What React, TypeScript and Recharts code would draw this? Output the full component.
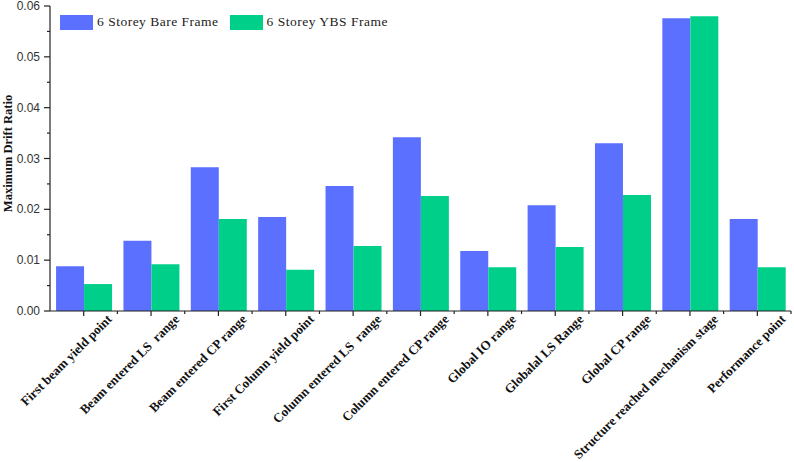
import { BarChart, Bar, XAxis, YAxis } from "recharts";

const categories = [
  "First beam yield point",
  "Beam entered LS  range",
  "Beam entered CP range",
  "First Column yield point",
  "Column entered LS  range",
  "Column entered CP range",
  "Global IO range",
  "Globalal LS Range",
  "Global CP range",
  "Structure reached mechanism stage",
  "Performance point",
];

const bareFrame = [0.0088, 0.0138, 0.0283, 0.0185, 0.0246, 0.0342, 0.0118, 0.0208, 0.033, 0.0576, 0.0181];
const ybsFrame = [0.0053, 0.0092, 0.0181, 0.0081, 0.0128, 0.0226, 0.0086, 0.0126, 0.0228, 0.058, 0.0086];

const seriesNames = ["6 Storey Bare Frame", "6 Storey YBS Frame"];
const yTicks = [0, 0.005, 0.01, 0.015, 0.02, 0.025, 0.03, 0.035, 0.04, 0.045, 0.05, 0.055, 0.06];

const BLUE = "#5B70FF";
const GREEN = "#00CF89";
const AXIS = "#222";

const data = categories.map((name, i) => ({
  name,
  bare: bareFrame[i],
  ybs: ybsFrame[i],
}));

const YTick = (props: any) => {
  const { x, y, payload } = props;
  const v = payload.value as number;
  const major = Math.round(v * 1000) % 10 === 0;
  return (
    <g>
      <line x1={x - (major ? 6 : 3)} x2={x} y1={y} y2={y} stroke={AXIS} strokeWidth={1.2} />
      {major && (
        <text
          x={x - 10}
          y={y}
          dy={4}
          textAnchor="end"
          fill="#333"
          style={{ fontFamily: "'Liberation Sans', Arial, sans-serif", fontSize: 12 }}
        >
          {v.toFixed(2)}
        </text>
      )}
    </g>
  );
};

const XTick = (props: any) => {
  const { x, y, payload } = props;
  const half = payload?.offset || 33.7;
  return (
    <g>
      <line x1={x} x2={x} y1={y} y2={y + 5} stroke={AXIS} strokeWidth={1.2} />
      <line x1={x + half} x2={x + half} y1={y} y2={y + 3} stroke={AXIS} strokeWidth={1.2} />
      <g transform={`translate(${x + 29},${y + 9})`}>
        <text
          textAnchor="end"
          transform="rotate(-45)"
          fill="#111"
          style={{
            fontFamily: "'Liberation Serif', 'Times New Roman', serif",
            fontWeight: "bold",
            fontSize: 13,
            whiteSpace: "pre",
          }}
        >
          {payload.value}
        </text>
      </g>
    </g>
  );
};

const YLabel = (props: any) => {
  const { viewBox } = props;
  const cx = 8;
  const cy = viewBox.y + viewBox.height / 2 - 5;
  return (
    <text
      x={cx}
      y={cy}
      textAnchor="middle"
      dominantBaseline="central"
      transform={`rotate(-90, ${cx}, ${cy})`}
      fill="#111"
      style={{ fontFamily: "'Liberation Serif', 'Times New Roman', serif", fontWeight: "bold", fontSize: 12.5 }}
    >
      Maximum Drift Ratio
    </text>
  );
};

const legendColors = [BLUE, GREEN];

const App = () => {
  return (
    <div style={{ position: "absolute", left: 0, top: 0, width: 794, height: 462, background: "#fff" }}>
      <BarChart
        width={794}
        height={462}
        data={data}
        margin={{ top: 6, right: 3, left: 0, bottom: 0 }}
        barCategoryGap="9%"
        barGap={0}
      >
        <XAxis
          dataKey="name"
          interval={0}
          height={151}
          tickSize={0}
          tickMargin={0}
          tickLine={false}
          tick={<XTick />}
          axisLine={{ stroke: AXIS, strokeWidth: 1.2 }}
        />
        <XAxis
          xAxisId="top"
          dataKey="name"
          orientation="top"
          height={0}
          tick={false}
          tickLine={false}
          axisLine={{ stroke: AXIS, strokeWidth: 1.2 }}
        />
        <YAxis
          domain={[0, 0.06]}
          ticks={yTicks}
          interval={0}
          width={50}
          tickSize={0}
          tickMargin={0}
          tickLine={false}
          tick={<YTick />}
          axisLine={{ stroke: AXIS, strokeWidth: 1.2 }}
          label={<YLabel />}
        />
        <YAxis
          yAxisId="right"
          orientation="right"
          domain={[0, 0.06]}
          width={0}
          tick={false}
          tickLine={false}
          axisLine={{ stroke: AXIS, strokeWidth: 1.2 }}
        />
        <Bar dataKey="bare" name={seriesNames[0]} fill={BLUE} isAnimationActive={false} />
        <Bar dataKey="ybs" name={seriesNames[1]} fill={GREEN} isAnimationActive={false} />
      </BarChart>
      <div
        style={{
          position: "absolute",
          left: 60,
          top: 14,
          display: "flex",
          alignItems: "center",
          fontFamily: "'Liberation Serif', 'Times New Roman', serif",
          fontSize: 13.5,
          color: "#222",
        }}
      >
        {seriesNames.map((n, i) => (
          <div key={n} style={{ display: "flex", alignItems: "center", marginRight: 11 }}>
            <div style={{ width: 33, height: 15, background: legendColors[i], marginRight: 4 }} />
            <span style={{ letterSpacing: 0.5, whiteSpace: "pre" }}>{n}</span>
          </div>
        ))}
      </div>
    </div>
  );
};

export default App;
